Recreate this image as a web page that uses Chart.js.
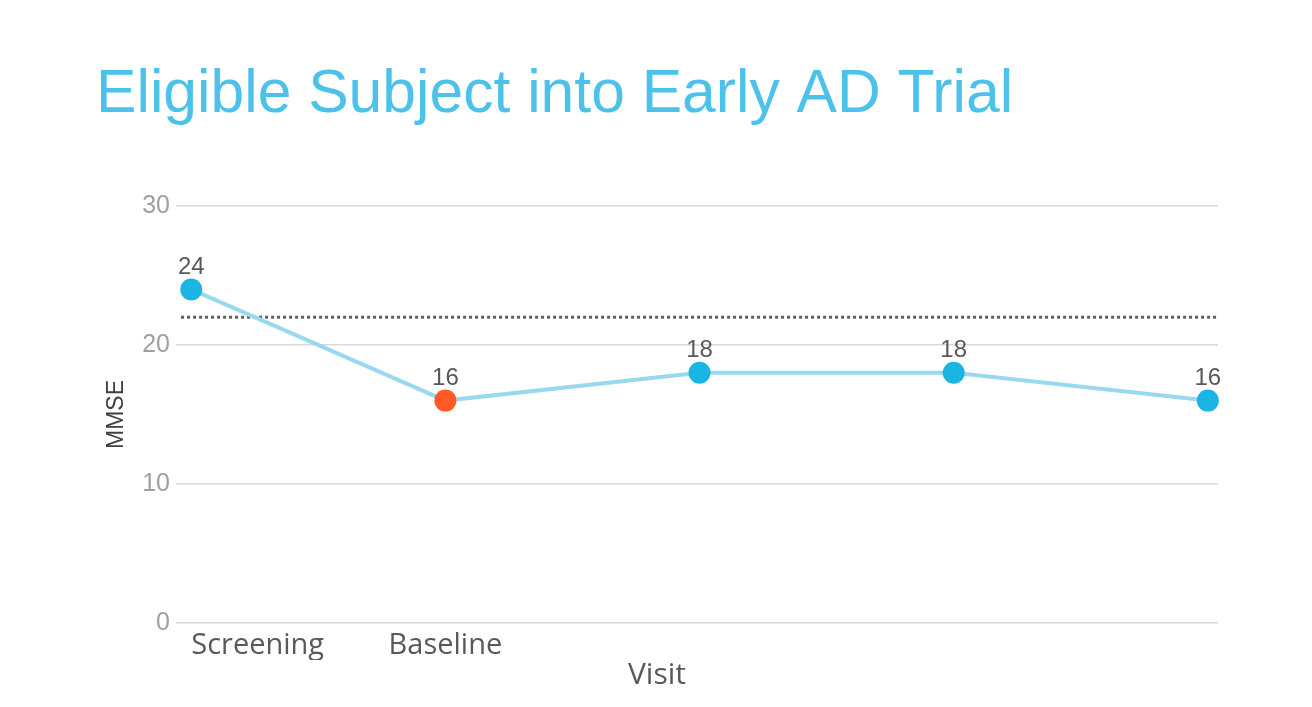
<!DOCTYPE html>
<html>
<head>
<meta charset="utf-8">
<script src="https://cdn.jsdelivr.net/npm/chart.js@4.4.1/dist/chart.umd.min.js"></script>
<style>
  html, body { margin: 0; padding: 0; background: #ffffff; }
  #wrap { width: 1312px; height: 707px; position: relative; }
</style>
</head>
<body>
<div id="wrap"><canvas id="c"></canvas></div>
<script>
// ---- data ----
const titleText = 'Eligible Subject into Early AD Trial';
const visits = ['Screening', 'Baseline', '', '', ''];
const mmse = [24, 16, 18, 18, 16];
const pointColors = ['#1bb5e3', '#ff5a26', '#1bb5e3', '#1bb5e3', '#1bb5e3'];
const threshold = 22;
const yTicks = [0, 10, 20, 30];
const X_MIN = -0.06, X_MAX = 4.04;

const seriesPoints = mmse.map((v, i) => ({ x: i, y: v }));
const thresholdPoints = [{ x: X_MIN + 0.02, y: threshold }, { x: X_MAX, y: threshold }];

const valueLabels = {
  id: 'valueLabels',
  afterDatasetsDraw(chart) {
    const meta = chart.getDatasetMeta(0);
    const ctx = chart.ctx;
    ctx.save();
    ctx.font = '24px "Liberation Sans", Arial, sans-serif';
    ctx.fillStyle = '#595959';
    ctx.textAlign = 'center';
    ctx.textBaseline = 'bottom';
    meta.data.forEach((pt, i) => {
      ctx.fillText(String(mmse[i]), pt.x, pt.y - 10);
    });
    ctx.restore();
  }
};

new Chart(document.getElementById('c'), {
  type: 'line',
  data: {
    datasets: [
      {
        data: seriesPoints,
        borderColor: '#9ad8f0',
        borderWidth: 4,
        pointRadius: 11,
        pointHoverRadius: 11,
        pointBackgroundColor: pointColors,
        pointBorderColor: pointColors,
        pointBorderWidth: 0,
        tension: 0,
        clip: false,
        order: 0
      },
      {
        data: thresholdPoints,
        borderColor: '#5f5f5f',
        borderWidth: 3,
        borderDash: [3, 3],
        pointRadius: 0,
        order: 1
      }
    ]
  },
  options: {
    responsive: true,
    maintainAspectRatio: false,
    animation: false,
    layout: { padding: { left: 96, right: 94, top: 59, bottom: 17 } },
    plugins: {
      legend: { display: false },
      tooltip: { enabled: false },
      title: {
        display: true,
        text: titleText,
        align: 'start',
        color: '#4cc1e9',
        font: { family: '"Liberation Sans", Arial, sans-serif', size: 60.6, weight: 'normal' },
        padding: { top: 0, bottom: 74.3 }
      },
      subtitle: {
        display: true,
        position: 'bottom',
        text: 'Visit',
        color: '#595959',
        font: { family: '"Open Sans", sans-serif', size: 30, weight: 'normal', lineHeight: 1.0 },
        padding: { top: 0, bottom: 0 }
      }
    },
    scales: {
      x: {
        type: 'linear',
        min: X_MIN,
        max: X_MAX,
        grid: { display: false },
        border: { display: false },
        afterBuildTicks(scale) {
          scale.ticks = visits.map((_, i) => ({ value: i }));
        },
        ticks: {
          autoSkip: false,
          maxRotation: 0,
          align: 'inner',
          padding: 0,
          color: '#595959',
          font: { family: '"Open Sans", sans-serif', size: 29, lineHeight: 1.0 },
          callback: (v) => visits[v] ?? ''
        }
      },
      y: {
        min: 0,
        max: 30,
        afterBuildTicks(scale) {
          scale.ticks = yTicks.map(v => ({ value: v }));
        },
        afterFit(scale) { scale.width = 80; },
        grid: { color: '#d9d9d9', lineWidth: 1.5, drawTicks: false },
        border: { display: false },
        ticks: {
          padding: 6,
          color: '#a0a0a0',
          font: { family: '"Liberation Sans", Arial, sans-serif', size: 25 }
        },
        title: {
          display: true,
          text: 'MMSE',
          color: '#404040',
          font: { family: '"Liberation Sans", Arial, sans-serif', size: 23 },
          padding: { top: 7, bottom: 0 }
        }
      }
    }
  },
  plugins: [valueLabels]
});
</script>
</body>
</html>
